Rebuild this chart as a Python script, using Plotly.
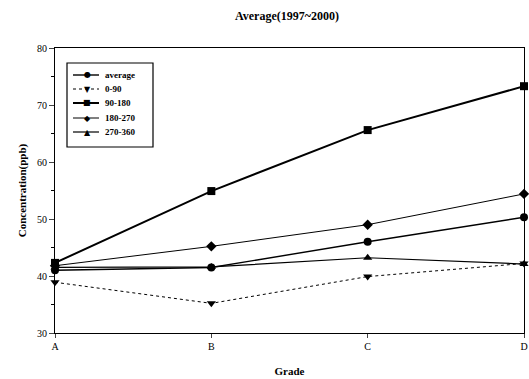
import plotly.graph_objects as go

grades = ["A", "B", "C", "D"]
x_pos = [0, 1, 2, 3]

average = [41.0, 41.5, 46.0, 50.3]
s_0_90 = [38.9, 35.2, 39.9, 42.2]
s_90_180 = [42.3, 54.9, 65.6, 73.3]
s_180_270 = [41.8, 45.2, 49.0, 54.4]
s_270_360 = [41.5, 41.6, 43.2, 42.1]

series_names = ["average", "0-90", "90-180", "180-270", "270-360"]
series_values = [average, s_0_90, s_90_180, s_180_270, s_270_360]
symbols = ["circle", "triangle-down", "square", "diamond", "triangle-up"]
glyphs = ["●", "▼", "■", "◆", "▲"]
line_styles = [
    dict(width=1.4, dash="solid"),
    dict(width=1, dash="dot"),
    dict(width=2, dash="solid"),
    dict(width=1, dash="solid"),
    dict(width=1.2, dash="solid"),
]

FONT = "Liberation Serif"
W, H = 529, 379
ML, MR, MT, MB = 55, 5, 48, 46


def px(xp):
    return (xp - ML) / (W - ML - MR)


def py(yp):
    return 1 - (yp - MT) / (H - MT - MB)


fig = go.Figure()
for name, vals, sym, line in zip(series_names, series_values, symbols, line_styles):
    fig.add_trace(go.Scatter(
        x=x_pos, y=vals, name=name, mode="lines+markers",
        line=dict(color="black", **line),
        marker=dict(symbol=sym, size=8, color="black"),
        cliponaxis=False, showlegend=False,
    ))

# compact legend box matching the reference
shapes = [dict(type="rect", xref="paper", yref="paper",
               x0=px(67), x1=px(153), y0=py(147), y1=py(63),
               line=dict(color="black", width=1.2), fillcolor="white", layer="above")]
annotations = []
rows = [75, 89, 103, 118, 132]
for name, glyph, line, yr in zip(series_names, glyphs, line_styles, rows):
    shapes.append(dict(type="line", xref="paper", yref="paper",
                       x0=px(73), x1=px(99), y0=py(yr), y1=py(yr),
                       line=dict(color="black", width=line["width"], dash=line["dash"]),
                       layer="above"))
    annotations.append(dict(xref="paper", yref="paper", x=px(87), y=py(yr),
                            text=glyph, showarrow=False, xanchor="center", yanchor="middle",
                            font=dict(family="DejaVu Sans", size=8, color="black")))
    annotations.append(dict(xref="paper", yref="paper", x=px(103), y=py(yr),
                            text="<b>%s</b>" % name, showarrow=False,
                            xanchor="left", yanchor="middle",
                            font=dict(family=FONT, size=9, color="black")))

fig.update_layout(
    width=W, height=H,
    margin=dict(l=ML, r=MR, t=MT, b=MB),
    paper_bgcolor="white", plot_bgcolor="white",
    font=dict(family=FONT, color="black", size=10),
    title=dict(text="<b>Average(1997~2000)</b>", x=287 / W, xanchor="center",
               y=1 - 16 / H, yanchor="middle", font=dict(size=12, family=FONT)),
    showlegend=False,
    shapes=shapes,
    annotations=annotations,
)
fig.update_xaxes(
    range=[0, 3], tickvals=x_pos, ticktext=grades, automargin=False,
    ticklabeloverflow="allow",
    showline=True, linecolor="black", linewidth=1, mirror=True,
    showgrid=False, zeroline=False, ticks="outside", ticklen=4,
    tickfont=dict(size=10, family=FONT),
    title=dict(text="<b>Grade</b>", font=dict(size=11, family=FONT), standoff=16),
)
fig.update_yaxes(
    range=[30, 80], dtick=10, tick0=30, automargin=False,
    ticklabeloverflow="allow",
    showline=True, linecolor="black", linewidth=1, mirror=True,
    showgrid=False, zeroline=False, ticks="outside", ticklen=5,
    minor=dict(dtick=5, ticks="outside", ticklen=3, tickcolor="black"),
    tickfont=dict(size=10, family=FONT),
    title=dict(text="<b>Concentration(ppb)</b>", font=dict(size=11, family=FONT), standoff=8),
)
fig.write_html(
    "out.html",
    config={"displayModeBar": False},
    post_script="document.body.style.margin='0';document.body.style.overflow='hidden';",
)
